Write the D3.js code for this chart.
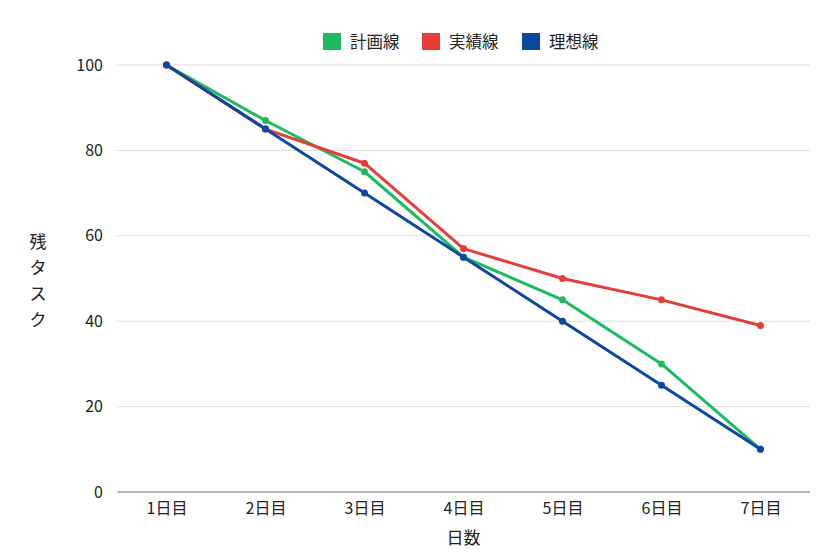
<!DOCTYPE html>
<html>
<head>
<meta charset="utf-8">
<script src="https://cdn.jsdelivr.net/npm/d3@7"></script>
<style>
  body { margin: 0; background: #fff; }
  text { font-family: "Noto Sans CJK JP", "Noto Sans", sans-serif; fill: #222; }
</style>
</head>
<body>
<script>
// data
var days = ["1日目", "2日目", "3日目", "4日目", "5日目", "6日目", "7日目"];
var plan = [100, 87, 75, 55, 45, 30, 10];
var actual = [100, 85, 77, 57, 50, 45, 39];
var ideal = [100, 85, 70, 55, 40, 25, 10];
var yTicks = [0, 20, 40, 60, 80, 100];

var series = [
    {name: "計画線", values: plan, color: "#1dbb5f"},
    {name: "実績線", values: actual, color: "#e53e3a"},
    {name: "理想線", values: ideal, color: "#0d47a1"}
];

var width = 840, height = 560;
var margin = {top: 65, right: 30, bottom: 68, left: 117};
var innerW = width - margin.left - margin.right;
var innerH = height - margin.top - margin.bottom;

var svg = d3.select("body")
    .append("svg")
        .attr("width", width)
        .attr("height", height);

var g = svg.append("g")
    .attr("transform", "translate(" + margin.left + ", " + margin.top + ")");

var x = d3.scalePoint()
    .domain(days)
    .range([0, innerW])
    .padding(0.5);

var y = d3.scaleLinear()
    .domain([0, 100])
    .range([innerH, 0]);

// gridlines
g.selectAll(".grid")
    .data(yTicks)
    .enter()
    .append("line")
        .attr("class", "grid")
        .attr("x1", 0)
        .attr("x2", innerW)
        .attr("y1", (d) => y(d))
        .attr("y2", (d) => y(d))
        .attr("stroke", (d) => d === 0 ? "#9e9e9e" : "#dedede")
        .attr("stroke-width", (d) => d === 0 ? 1.5 : 1);

// y axis
var leftAxis = d3.axisLeft(y).tickValues(yTicks).tickSize(0).tickPadding(14);
var ya = g.append("g").call(leftAxis);
ya.select(".domain").remove();
ya.selectAll("text")
    .attr("font-size", "16px")
    .style("fill", "#222");

// x axis
var bottomAxis = d3.axisBottom(x).tickSize(0).tickPadding(11);
var xa = g.append("g")
    .attr("transform", "translate(0, " + innerH + ")")
    .call(bottomAxis);
xa.select(".domain").remove();
xa.selectAll("text")
    .attr("font-size", "16px")
    .style("fill", "#222");

// lines
var line = d3.line()
    .x((d, i) => x(days[i]))
    .y((d) => y(d));

series.forEach((s) => {
    g.append("path")
        .datum(s.values)
        .attr("fill", "none")
        .attr("stroke", s.color)
        .attr("stroke-width", 3)
        .attr("stroke-linejoin", "round")
        .attr("d", line);
    g.selectAll(".dot-" + s.name)
        .data(s.values)
        .enter()
        .append("circle")
            .attr("cx", (d, i) => x(days[i]))
            .attr("cy", (d) => y(d))
            .attr("r", 3.5)
            .attr("fill", s.color);
});

// legend
var legendX = [323, 422, 522];
var legend = svg.selectAll(".legend")
    .data(series)
    .enter()
    .append("g")
        .attr("transform", (d, i) => "translate(" + legendX[i] + ", 33)");
legend.append("rect")
    .attr("width", 18)
    .attr("height", 17)
    .attr("fill", (d) => d.color);
legend.append("text")
    .attr("x", 27)
    .attr("y", 15)
    .attr("font-size", "16.5px")
    .text((d) => d.name);

// axis labels
svg.append("text")
    .attr("x", margin.left + innerW / 2)
    .attr("y", 544)
    .attr("font-size", "17px")
    .attr("text-anchor", "middle")
    .text("日数");

svg.append("text")
    .attr("x", 38)
    .attr("y", 248)
    .attr("font-size", "17px")
    .attr("text-anchor", "middle")
    .selectAll("tspan")
    .data("残タスク".split(""))
    .enter()
    .append("tspan")
        .attr("x", 38)
        .attr("dy", (d, i) => i === 0 ? 0 : 26)
        .text((d) => d);
</script>
</body>
</html>
